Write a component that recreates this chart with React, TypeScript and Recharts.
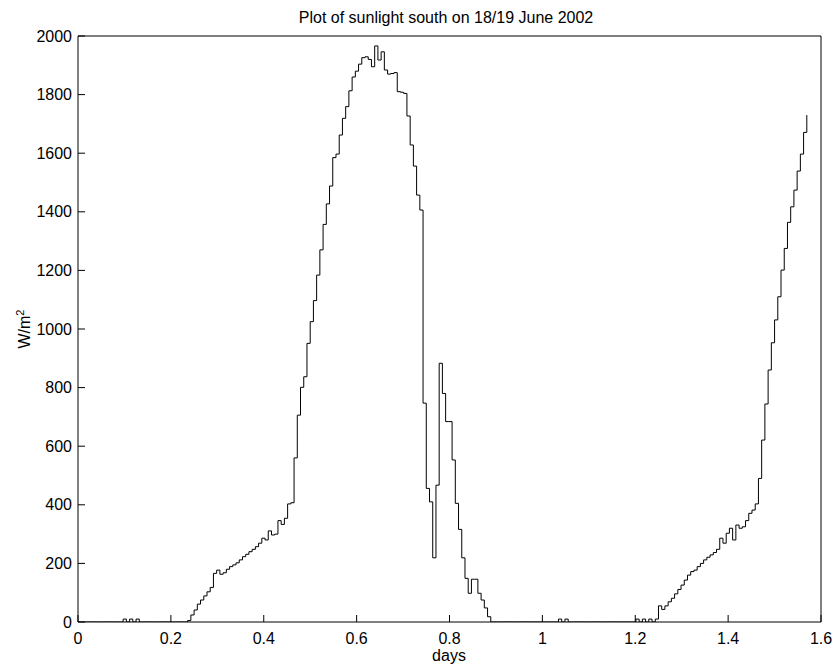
import React from 'react';
import { LineChart, Line, XAxis, YAxis } from 'recharts';

// one reading every 10 minutes, starting at day 0
const SAMPLE_STEP = 1 / 144;

// W/m2
const firstNight = [
    0, 0, 0, 0, 0, 0, 0, 0, 0, 0, 0, 0, 0, 0,
    10, 0, 10, 0, 10,
    0, 0, 0, 0, 0, 0, 0, 0, 0, 0, 0, 0, 0, 0, 0,
];

const firstDay = [
    5, 24, 41, 61, 75, 89, 103, 118,
    166, 177, 163, 168, 180, 189, 195, 202, 212, 223,
    231, 240, 248, 257, 269, 286, 280, 311, 297, 300,
    346, 333, 354, 403, 407, 560, 706, 801, 837, 951,
    1025, 1097, 1184, 1270, 1357, 1427, 1488, 1585, 1597, 1662,
    1719, 1759, 1813, 1860, 1880, 1904, 1926, 1929, 1920, 1895,
    1966, 1918, 1946, 1884, 1870, 1872, 1875, 1810, 1808, 1804,
    1727, 1628, 1556, 1457, 1406, 747, 456, 410, 219, 467,
    883, 780, 684, 684, 553, 405, 316, 219, 149, 98,
    146, 146, 98, 75, 48, 18,
];

const secondNight = [
    0, 0, 0, 0, 0, 0, 0, 0, 0, 0, 0, 0, 0, 0, 0, 0, 0, 0, 0, 0, 0,
    10, 0, 10,
    0, 0, 0, 0, 0, 0, 0, 0, 0, 0, 0, 0, 0, 0, 0, 0, 0, 0, 0, 0, 0,
];

const secondMorning = [
    10, 0, 10, 0, 10, 0, 10,
    55, 43, 55, 69, 81, 96, 111, 126, 143, 160,
    172, 177, 189, 200, 212, 221, 229, 237, 248, 286,
    269, 303, 320, 280, 331, 320, 325, 346, 371, 382,
    403, 490, 621, 744, 860, 953, 1031, 1110, 1201, 1275,
    1364, 1417, 1474, 1539, 1597, 1671, 1730,
];

const xTicks = [0, 0.2, 0.4, 0.6, 0.8, 1, 1.2, 1.4, 1.6];
const yTicks = [0, 200, 400, 600, 800, 1000, 1200, 1400, 1600, 1800, 2000];

const sunlight = [...firstNight, ...firstDay, ...secondNight, ...secondMorning];
const data = sunlight.map((w, i) => ({ day: i * SAMPLE_STEP, w }));

const FONT = '"Liberation Sans", Arial, Helvetica, sans-serif';
const tickStyle = { fill: '#000', fontSize: 16, fontFamily: FONT };

const App = () => {
    return (
        <div style={{ position: 'relative', width: 836, height: 670, fontFamily: FONT, color: '#000', background: '#fff' }}>
            <style>{'body { margin: 0; }'}</style>
            <LineChart
                width={836}
                height={670}
                data={data}
                margin={{ top: 35, right: 14, left: 18, bottom: 18 }}
            >
                <XAxis
                    dataKey="day"
                    type="number"
                    domain={[0, 1.6]}
                    ticks={xTicks}
                    allowDataOverflow
                    height={30}
                    stroke="#000"
                    tickSize={-7}
                    tickMargin={18}
                    tick={tickStyle}
                />
                <XAxis
                    xAxisId="top"
                    orientation="top"
                    dataKey="day"
                    type="number"
                    domain={[0, 1.6]}
                    ticks={xTicks}
                    allowDataOverflow
                    height={1}
                    stroke="#000"
                    tickSize={-7}
                    tick={false}
                />
                <YAxis
                    type="number"
                    domain={[0, 2000]}
                    ticks={yTicks}
                    allowDataOverflow
                    width={60}
                    stroke="#000"
                    tickSize={-7}
                    tickMargin={13}
                    tick={tickStyle}
                />
                <YAxis
                    yAxisId="right"
                    orientation="right"
                    type="number"
                    domain={[0, 2000]}
                    ticks={yTicks}
                    allowDataOverflow
                    width={1}
                    stroke="#000"
                    tickSize={-7}
                    tick={false}
                />
                <Line
                    type="stepAfter"
                    dataKey="w"
                    stroke="#000"
                    strokeWidth={1}
                    dot={false}
                    isAnimationActive={false}
                />
            </LineChart>

            <div style={{ position: 'absolute', left: 446, top: 10, transform: 'translateX(-50%)', fontSize: 16, lineHeight: '16px', whiteSpace: 'nowrap' }}>
                Plot of sunlight south on 18/19 June 2002
            </div>
            <div style={{ position: 'absolute', left: 449, top: 648, transform: 'translateX(-50%)', fontSize: 16, lineHeight: '16px' }}>
                days
            </div>
            <div style={{ position: 'absolute', left: 25, top: 329, transform: 'translate(-50%, -50%) rotate(-90deg)', fontSize: 16, lineHeight: '16px', whiteSpace: 'nowrap' }}>
                W/m<sup style={{ fontSize: 11, verticalAlign: 'top', position: 'relative', top: -5 }}>2</sup>
            </div>
        </div>
    );
};

export default App;
